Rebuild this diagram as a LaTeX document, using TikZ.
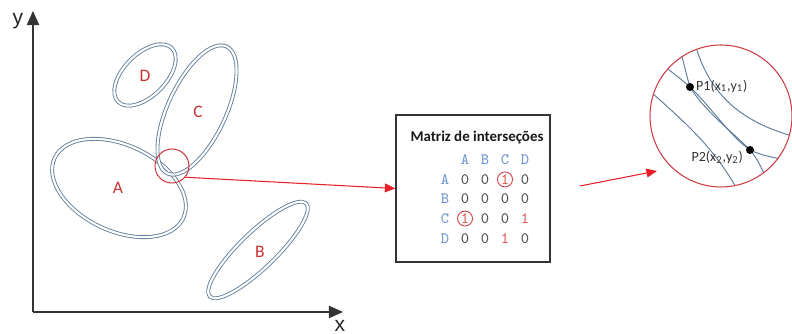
\documentclass[tikz,border=0pt]{standalone}
\usepackage{fontspec}
\setmainfont{Carlito}
\newfontfamily\axisfont{Liberation Sans}
\usetikzlibrary{arrows.meta,matrix}
\def\ellA{(119,146) ellipse [x radius=71, y radius=43, rotate=-25]}
\def\ellB{(258,84) ellipse [x radius=67, y radius=18, rotate=44]}
\def\ellC{(197,224) ellipse [x radius=70, y radius=29, rotate=65]}
\def\ellD{(145,259) ellipse [x radius=38, y radius=21, rotate=45]}
\def\lenscircle{(721,218) circle (71)}
\definecolor{ring edge}{RGB}{95,125,155}
\definecolor{spot red}{RGB}{205,60,70}
\definecolor{arrow red}{RGB}{232,30,40}
\definecolor{label red}{RGB}{200,50,50}
\definecolor{head blue}{RGB}{110,150,205}
\definecolor{one red}{RGB}{225,95,85}
\colorlet{axis line}{black!80}
\tikzset{ring/.style={draw=ring edge, double=white, double distance=1.2pt, line width=0.5pt},
      axis/.style={draw=axis line, line width=0.7pt, -{Triangle[length=8pt,width=7pt]}},
      axlab/.style={font=\axisfont\fontsize{12}{12}\selectfont, text=black!85},
      setlab/.style={font=\fontsize{10}{10}\selectfont, text=label red},
      spot/.style={circle, draw=spot red, line width=0.6pt, minimum size=0.68cm, inner sep=0pt},
      redarrow/.style={draw=arrow red, line width=0.6pt, -{Triangle[length=6pt,width=5pt]}},
      mbox/.style={draw=black!80, line width=0.7pt, minimum width=3.08cm, minimum height=2.94cm},
      mcell/.style={minimum width=0.4cm, minimum height=0.39cm, inner sep=0pt,
        font=\ttfamily\fontsize{9}{9}\selectfont, text=black!70},
      head/.style={text=head blue},
      one/.style={text=one red},
      onering/.style={draw=spot red, line width=0.5pt},
      lens/.style={circle, draw=spot red, line width=0.6pt, minimum size=2.84cm, inner sep=0pt},
      curve/.style={draw=ring edge, line width=0.55pt},
      dot/.style={circle, fill=black, minimum size=0.16cm, inner sep=0pt},
      ptlab/.style={font=\fontsize{8}{8}\selectfont, text=black!80, inner sep=1pt}}

\begin{document}
\begin{tikzpicture}[x=0.02cm, y=0.02cm]
\useasboundingbox (0,0) rectangle (792,334);
% axes
\coordinate (origin) at (33,22);
\coordinate (ytip) at (33,323);
\coordinate (xtip) at (343,22);
\draw[axis] (origin) -- (ytip);
\draw[axis] (origin) -- (xtip);
\node[axlab] (ylab) at (18,313) {y};
\node[axlab] (xlab) at (340,8) {x};
% sets
\draw[ring] \ellA;
\draw[ring] \ellC;
\draw[ring] \ellD;
\draw[ring] \ellB;
\node[setlab] (labA) at (118,146) {A};
\node[setlab] (labB) at (260,82) {B};
\node[setlab] (labC) at (198,222) {C};
\node[setlab] (labD) at (145,258) {D};
\node[spot] (spot) at (172,168) {};
% matrix
\node[mbox] (mbox) at (473,145.5) {};
\node[font=\bfseries\fontsize{8.5}{8.5}\selectfont, text=black!90] (title) at (477,196) {Matriz de interseções};
\matrix (mat) [matrix of nodes, nodes={mcell}] at (485,135) {
  & |[head]|A & |[head]|B & |[head]|C & |[head]|D \\
  |[head]|A & 0 & 0 & |[one]|1 & 0 \\
  |[head]|B & 0 & 0 & 0 & 0 \\
  |[head]|C & |[one]|1 & 0 & 0 & |[one]|1 \\
  |[head]|D & 0 & 0 & |[one]|1 & 0 \\
};
\draw[onering] (mat-2-4) circle (7.5);
\draw[onering] (mat-4-2) circle (7.5);
\draw[redarrow] (spot.-40) -- (mbox.west);
% zoomed crossing
\coordinate (a2s) at (580,148);
\coordinate (a2e) at (657,163);
\draw[redarrow] (a2s) -- (a2e);
\begin{scope}
  \clip \lenscircle;
  \draw[curve] (695,290) .. controls (708,245) and (735,212) .. (800,196);
  \draw[curve] (650,278) .. controls (668,265) and (680,256) .. (690,247)
    .. controls (710,228) and (730,198) .. (750,184)
    .. controls (765,177) and (780,175) .. (800,173);
  \draw[curve] (676,300) .. controls (683,275) and (686,260) .. (690,247)
    .. controls (705,222) and (735,200) .. (750,184)
    .. controls (758,175) and (765,160) .. (772,140);
  \draw[curve] (640,252) .. controls (680,215) and (715,190) .. (745,130);
\end{scope}
\node[lens] (lens) at (721,218) {};
\node[dot] (p1) at (690,247) {};
\node[dot] (p2) at (750,184) {};
\node[ptlab, anchor=west] (p1lab) at (694,248) {P1(x\textsubscript{1},y\textsubscript{1})};
\node[ptlab, anchor=east] (p2lab) at (745,177) {P2(x\textsubscript{2},y\textsubscript{2})};
\end{tikzpicture}
\end{document}
